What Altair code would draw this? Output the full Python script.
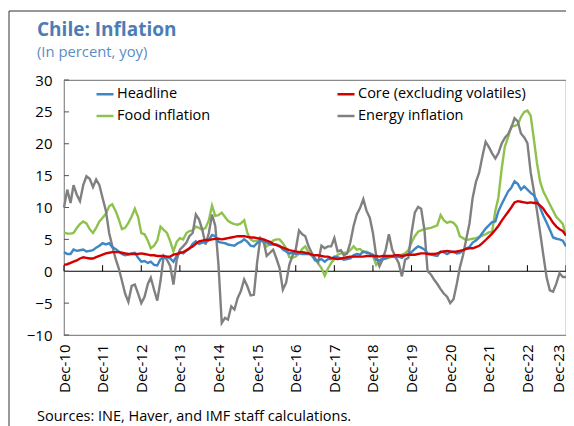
import altair as alt
import pandas as pd

# Monthly data, Dec-2010 .. Dec-2023 (157 months)
headline = [3.0,
    2.7, 2.7, 3.4, 3.2, 3.3, 3.4, 3.1, 3.2, 3.3, 3.7, 4.0, 4.4,
    4.2, 4.4, 3.8, 3.5, 3.1, 2.7, 2.5, 2.6, 2.8, 2.9, 2.1, 1.5,
    1.6, 1.3, 1.5, 1.0, 0.9, 1.9, 2.2, 2.2, 2.0, 1.5, 2.4, 3.0,
    2.8, 3.2, 3.5, 4.3, 4.7, 4.3, 4.5, 4.5, 4.9, 5.7, 5.5, 4.6,
    4.5, 4.4, 4.2, 4.1, 4.0, 4.4, 4.6, 5.0, 4.6, 4.0, 3.9, 4.4,
    4.8, 4.7, 4.5, 4.2, 4.2, 4.2, 4.0, 3.4, 3.1, 2.8, 2.9, 2.7,
    2.8, 2.7, 2.7, 2.7, 2.6, 1.7, 1.7, 1.9, 1.5, 1.9, 1.9, 2.3,
    2.2, 2.0, 1.8, 1.9, 2.0, 2.5, 2.7, 2.6, 3.1, 2.9, 2.8, 2.6,
    1.8, 1.7, 2.0, 2.0, 2.3, 2.3, 2.2, 2.3, 2.1, 2.5, 2.7, 3.0,
    3.5, 3.9, 3.7, 3.4, 2.8, 2.6, 2.5, 2.4, 3.1, 3.0, 2.7, 3.0,
    3.1, 2.8, 2.9, 3.3, 3.6, 3.8, 4.5, 4.8, 5.3, 6.0, 6.7, 7.2,
    7.7, 7.8, 9.4, 10.5, 11.5, 12.5, 13.1, 14.1, 13.7, 12.8, 13.3, 12.8,
    12.3, 11.9, 11.1, 9.9, 8.7, 7.6, 6.5, 5.3, 5.1, 5.0, 4.8, 3.9]

core = [1.0,
    1.1, 1.3, 1.5, 1.7, 2.0, 2.2, 2.1, 2.0, 2.0, 2.2, 2.4, 2.6,
    2.8, 2.9, 3.0, 3.0, 3.0, 2.9, 2.8, 2.7, 2.7, 2.7, 2.7, 2.8,
    2.7, 2.6, 2.5, 2.5, 2.4, 2.4, 2.4, 2.3, 2.3, 2.6, 2.7, 2.9,
    3.0, 3.3, 3.6, 3.9, 4.3, 4.7, 4.8, 4.9, 4.9, 5.0, 5.1, 5.1,
    5.0, 5.1, 5.2, 5.3, 5.4, 5.5, 5.5, 5.5, 5.4, 5.3, 5.3, 5.2,
    5.1, 5.0, 4.8, 4.6, 4.3, 4.1, 3.9, 3.7, 3.5, 3.3, 3.2, 3.1,
    3.0, 3.0, 2.9, 2.8, 2.6, 2.5, 2.5, 2.4, 2.3, 2.3, 2.1, 2.0,
    1.9, 2.0, 2.1, 2.2, 2.3, 2.3, 2.3, 2.3, 2.3, 2.4, 2.4, 2.4,
    2.4, 2.3, 2.4, 2.4, 2.4, 2.4, 2.5, 2.5, 2.4, 2.5, 2.6, 2.6,
    2.6, 2.7, 2.8, 2.8, 2.7, 2.7, 2.7, 2.8, 3.0, 3.1, 3.2, 3.1,
    3.0, 3.1, 3.2, 3.3, 3.5, 3.6, 3.6, 3.8, 4.0, 4.4, 4.9, 5.4,
    5.9, 6.5, 7.1, 7.9, 8.6, 9.3, 10.0, 10.8, 11.0, 10.9, 10.8, 10.7,
    10.8, 10.7, 10.7, 10.3, 9.8, 9.0, 8.4, 7.6, 7.0, 6.6, 6.3, 5.6]

food = [6.1,
    5.9, 5.9, 6.0, 6.8, 7.4, 7.8, 7.5, 6.6, 6.0, 6.8, 7.8, 8.4,
    9.0, 10.2, 10.5, 9.5, 8.2, 6.6, 6.8, 7.6, 8.6, 9.8, 8.5, 6.0,
    5.8, 4.8, 3.6, 4.0, 4.8, 7.0, 6.5, 6.0, 4.7, 3.1, 4.6, 5.2,
    5.0, 6.0, 6.3, 6.4, 7.0, 6.8, 6.5, 6.8, 8.0, 10.3, 8.7, 8.8,
    9.2, 8.5, 7.9, 7.6, 7.4, 7.3, 7.5, 8.0, 6.0, 5.0, 4.7, 4.8,
    5.0, 4.5, 3.9, 4.3, 4.8, 5.0, 5.0, 4.4, 3.6, 2.2, 2.1, 2.3,
    2.8, 3.5, 3.9, 3.0, 2.4, 2.0, 1.2, 0.5, -0.7, 0.4, 1.3, 1.9,
    2.6, 2.8, 2.9, 2.9, 3.3, 3.9, 3.4, 3.5, 3.0, 3.1, 2.8, 2.4,
    1.0, 1.6, 1.8, 2.0, 2.1, 2.3, 2.4, 2.4, 2.6, 2.8, 3.3, 4.5,
    5.5, 6.2, 6.4, 6.6, 6.7, 6.8, 7.0, 7.2, 8.8, 8.0, 7.6, 7.8,
    7.6, 7.0, 5.5, 5.2, 4.9, 5.0, 5.1, 5.2, 5.4, 5.6, 5.8, 6.1,
    6.2, 9.5, 11.5, 16.0, 19.5, 21.0, 22.7, 22.8, 23.0, 24.2, 25.0, 25.2,
    24.4, 20.6, 17.0, 14.0, 12.5, 11.5, 10.5, 9.5, 8.5, 8.0, 7.4, 5.6]

energy = [10.0,
    12.8, 10.7, 13.5, 12.0, 11.0, 13.5, 14.9, 14.5, 13.2, 14.4, 13.5, 11.5,
    9.5, 6.0, 4.0, 2.0, 0.5, -1.5, -3.5, -4.8, -2.3, -2.1, -3.5, -5.0,
    -4.0, -2.0, -1.0, -2.9, -4.6, -1.5, 2.4, 1.8, 0.8, -2.1, 1.8, 3.4,
    3.9, 4.5, 5.5, 6.0, 8.9, 8.1, 6.5, 4.2, 6.0, 8.9, 7.1, 1.0,
    -8.1, -7.3, -7.6, -5.5, -6.0, -4.2, -3.1, -1.3, -2.4, -3.8, -3.7, 1.3,
    5.2, 4.7, 2.4, 2.9, 3.4, 2.0, 0.5, -2.9, -1.8, 1.0, 2.5, 3.4,
    6.4, 5.8, 5.5, 3.9, 2.9, 2.0, 1.4, 4.0, 3.6, 3.9, 3.9, 5.2,
    3.1, 3.3, 2.5, 2.8, 4.5, 7.1, 8.9, 9.9, 11.3, 9.5, 8.4, 6.0,
    2.4, 0.8, 1.8, 3.4, 5.8, 3.4, 2.3, 1.3, -0.8, 1.8, 2.1, 6.0,
    9.2, 10.1, 9.8, 6.5, 0.0, -0.5, -1.3, -2.0, -2.8, -3.5, -4.0, -5.0,
    -4.4, -2.0, 0.5, 2.5, 5.0, 7.5, 11.5, 14.0, 15.5, 18.0, 20.3, 19.5,
    18.5, 17.7, 18.5, 20.0, 20.9, 21.5, 22.5, 24.0, 23.5, 21.6, 21.0, 20.1,
    15.5, 12.5, 9.5, 6.0, 2.5, -1.0, -3.0, -3.2, -1.9, -0.3, -0.9, -0.9]

series_names = ["Headline", "Core (excluding volatiles)", "Food inflation", "Energy inflation"]
series_colors = ["#3f86c4", "#d40000", "#8fc24c", "#808080"]
y_tick_values = [-10, -5, 0, 5, 10, 15, 20, 25, 30]
x_tick_years = list(range(2010, 2024))

title_text = "Chile: Inflation"
subtitle_text = "(In percent, yoy)"
source_text = "Sources: INE, Haver, and IMF staff calculations."

for s in (headline, core, food, energy):
    assert len(s) == 157, len(s)

months = pd.date_range("2010-12-01", periods=157, freq="MS")
rows = []
for name, vals in [("Food inflation", food), ("Energy inflation", energy),
                   ("Headline", headline), ("Core (excluding volatiles)", core)]:
    for d, v in zip(months, vals):
        rows.append({"date": d.strftime("%Y-%m-%d"), "value": v, "series": name})
df = pd.DataFrame(rows)

FONT = "Open Sans"
x_dom = [alt.DateTime(year=2010, month=12, date=1), alt.DateTime(year=2023, month=12, date=1)]
x_vals = [alt.DateTime(year=y, month=12, date=1) for y in x_tick_years]
xscale = alt.Scale(domain=x_dom)
yscale = alt.Scale(domain=[-10, 30], nice=False)

x_axis = alt.Axis(values=x_vals, format="%b-%y", labelAngle=270, labelAlign="right",
                  labelBaseline="middle", ticks=False, domain=False, grid=False, title=None,
                  labelPadding=9, labelFontSize=15, labelFont=FONT, labelColor="#000",
                  labelFlush=False, labelOverlap=False,
                  labelOffset={"condition": {"test": "year(datum.value) >= 2023", "value": -8},
                               "value": 0})
y_axis = alt.Axis(values=y_tick_values, ticks=False, domain=False, grid=False, title=None,
                  labelPadding=12, labelFontSize=15, labelFont=FONT, labelColor="#000")

lines = alt.Chart(df).mark_line(strokeWidth=2.4).encode(
    x=alt.X("date:T", scale=xscale, axis=x_axis),
    y=alt.Y("value:Q", scale=yscale, axis=y_axis),
    color=alt.Color("series:N",
                    scale=alt.Scale(domain=series_names, range=series_colors),
                    legend=alt.Legend(orient="none", legendX=31, legendY=4, columns=2,
                                      direction="horizontal", title=None,
                                      symbolType="stroke", symbolStrokeWidth=2.5, symbolSize=289,
                                      labelFontSize=14.5, labelFont=FONT, labelColor="#000",
                                      labelLimit=400, labelOffset=2, rowPadding=5,
                                      columnPadding=121, padding=0)),
)

zero = alt.Chart(pd.DataFrame({"z": [0]})).mark_rule(color="#000", strokeWidth=1.2).encode(
    y=alt.Y("z:Q", scale=yscale, axis=y_axis))

xticks = alt.Chart(pd.DataFrame({"d": [f"{y}-12-01" for y in x_tick_years]})).transform_calculate(
    lo="0", hi="0.95").mark_rule(color="#000", strokeWidth=1).encode(
    x=alt.X("d:T", scale=xscale, axis=x_axis),
    y=alt.Y("lo:Q", scale=yscale, axis=y_axis), y2="hi:Q")

yticks = alt.Chart(pd.DataFrame({"v": y_tick_values})).mark_rule(color="#555", strokeWidth=1).encode(
    y=alt.Y("v:Q", scale=yscale, axis=y_axis), x=alt.value(0), x2=alt.value(5))

one = pd.DataFrame({"k": [0]})
title = alt.Chart(one).mark_text(text=title_text, font=FONT, fontSize=19, fontWeight="bold",
                                 color="#4a7db5", align="left", baseline="alphabetic").encode(
    x=alt.value(-27), y=alt.value(-44))
subtitle = alt.Chart(one).mark_text(text=subtitle_text, font=FONT, fontSize=14.8,
                                    color="#5b8cc4", align="left", baseline="alphabetic").encode(
    x=alt.value(-27), y=alt.value(-23))
source = alt.Chart(one).mark_text(text=source_text, font=FONT, fontSize=14.5,
                                  color="#000", align="left", baseline="alphabetic").encode(
    x=alt.value(-27), y=alt.value(341))
frame_left = alt.Chart(one).mark_rule(color="#333", strokeWidth=1).encode(
    x=alt.value(-55), y=alt.value(-69), y2=alt.value(360))
frame_top = alt.Chart(one).mark_rule(color="#333", strokeWidth=1).encode(
    x=alt.value(-55), x2=alt.value(520), y=alt.value(-69))

chart = alt.layer(zero, xticks, yticks, lines, title, subtitle, source, frame_left, frame_top).properties(
    width=502, height=255,
    autosize=alt.AutoSizeParams(type="none"),
    padding={"left": 56, "top": 72, "right": 0, "bottom": 91},
).configure_view(stroke="#8a8a8a", strokeWidth=1.2)

chart.save("out.html", embed_options={"renderer": "svg", "actions": False})
